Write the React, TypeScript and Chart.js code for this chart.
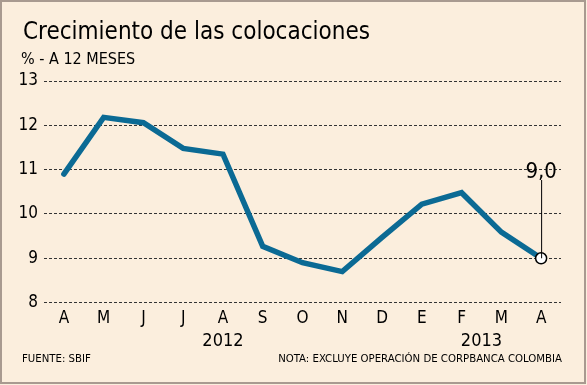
import React, { useEffect, useRef } from "react";
import { Chart, registerables } from "chart.js";

Chart.register(...registerables);

const months = ["A", "M", "J", "J", "A", "S", "O", "N", "D", "E", "F", "M", "A"];
const growth = [10.9, 12.18, 12.06, 11.48, 11.35, 9.27, 8.9, 8.7, 9.47, 10.22, 10.48, 9.59, 9.0];
const yearLabels = ["2012", "2013"];
const yearAt = [4, 10.5];
const yTicks = [8, 9, 10, 11, 12, 13];
const title = "Crecimiento de las colocaciones";
const subtitle = "% - A 12 MESES";
const source = "FUENTE: SBIF";
const note = "NOTA: EXCLUYE OPERACIÓN DE CORPBANCA COLOMBIA";
const lastLabel = "9,0";

const FONT = "'DejaVu Sans Condensed', 'DejaVu Sans', sans-serif";
const BG = "#FBEEDD";
const LINE = "#0B6A94";
const INK = "#000";

const decor = {
  id: "decor",
  beforeDraw(chart: any) {
    const { ctx, width, height } = chart;
    ctx.save();
    ctx.fillStyle = BG;
    ctx.fillRect(0, 0, width, height);
    ctx.strokeStyle = "#A89A90";
    ctx.lineWidth = 2;
    ctx.strokeRect(1, 1, width - 3, height - 3);
    ctx.restore();
  },
  afterDraw(chart: any) {
    const { ctx } = chart;
    const xs = chart.scales.x;
    const ys = chart.scales.y;
    ctx.save();
    ctx.fillStyle = INK;
    ctx.textBaseline = "alphabetic";
    ctx.textAlign = "left";
    ctx.font = `24px ${FONT}`;
    ctx.fillText(title, 23, 39);
    ctx.font = `16px ${FONT}`;
    ctx.fillText(subtitle, 21, 64);
    ctx.font = `11.3px ${FONT}`;
    ctx.fillText(source, 22, 362);
    ctx.textAlign = "right";
    ctx.fillText(note, 562, 362);
    ctx.textAlign = "center";
    ctx.font = `18px ${FONT}`;
    yearLabels.forEach((y, i) => {
      ctx.fillText(y, xs.getPixelForValue(yearAt[i]), 346);
    });
    // annotation on last point
    const li = growth.length - 1;
    const px = xs.getPixelForValue(li);
    const py = ys.getPixelForValue(growth[li]);
    ctx.strokeStyle = INK;
    ctx.lineWidth = 1;
    ctx.beginPath();
    ctx.moveTo(px + 0.5, py);
    ctx.lineTo(px + 0.5, 180);
    ctx.stroke();
    ctx.font = `22px ${FONT}`;
    ctx.fillText(lastLabel, px, 178);
    ctx.restore();
  },
};

export default function App() {
  const ref = useRef<HTMLCanvasElement>(null);
  useEffect(() => {
    const canvas = ref.current!;
    const chart = new Chart(canvas, {
      type: "line",
      data: {
        labels: months,
        datasets: [
          {
            data: growth,
            borderColor: LINE,
            borderWidth: 5.5,
            tension: 0,
            pointRadius: growth.map((_, i) => (i === growth.length - 1 ? 5.5 : 0)),
            pointBackgroundColor: "#fff",
            pointBorderColor: INK,
            pointBorderWidth: 1.5,
            borderJoinStyle: "miter",
            borderCapStyle: "round",
          },
        ],
      },
      options: {
        responsive: false,
        animation: false,
        devicePixelRatio: 1,
        layout: { padding: { left: 0, top: 81, right: 26, bottom: 50 } },
        plugins: { legend: { display: false }, tooltip: { enabled: false } },
        scales: {
          x: {
            offset: true,
            grid: { display: false, drawTicks: false },
            border: { display: false },
            ticks: { color: INK, font: { family: FONT, size: 17 }, padding: 6, maxRotation: 0, autoSkip: false },
          },
          y: {
            min: 8,
            max: 13,
            afterFit: (s: any) => { s.width = 44; },
            afterBuildTicks: (s: any) => { s.ticks = yTicks.map((v) => ({ value: v })); },
            grid: { color: "#333", lineWidth: 1, drawTicks: false },
            border: { display: false, dash: [3, 2] },
            ticks: { color: INK, font: { family: FONT, size: 17 }, padding: 6 },
          },
        },
      },
      plugins: [decor],
    });
    return () => chart.destroy();
  }, []);
  return (
    <div style={{ position: "fixed", left: 0, top: 0, width: 587, height: 385 }}>
      <canvas ref={ref} width={587} height={385} style={{ width: 587, height: 385, display: "block" }} />
    </div>
  );
}
